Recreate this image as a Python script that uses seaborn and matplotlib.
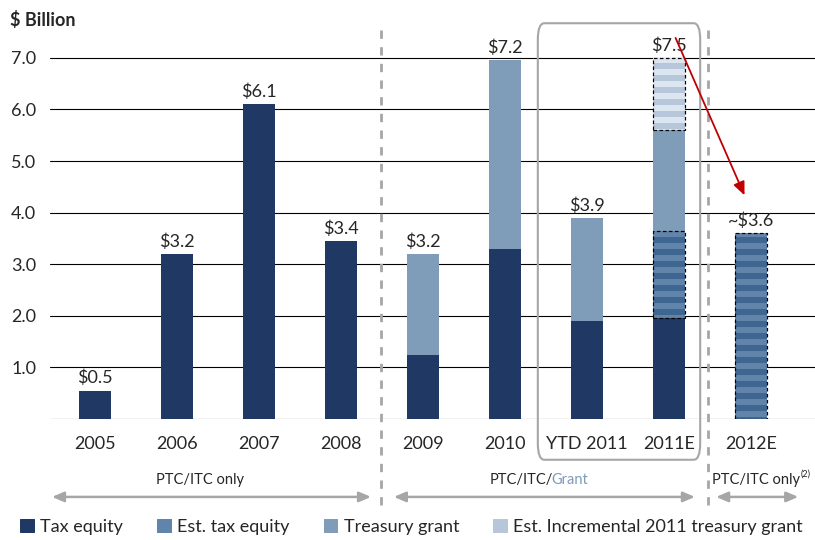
import numpy as np
import pandas as pd
import matplotlib.pyplot as plt
import seaborn as sns
from matplotlib.patches import Patch, FancyBboxPatch

years = ['2005', '2006', '2007', '2008', '2009', '2010', 'YTD 2011', '2011E', '2012E']
tax_equity = [0.55, 3.2, 6.1, 3.45, 1.25, 3.3, 1.9, 1.95, 0]
est_tax_equity = [0, 0, 0, 0, 0, 0, 0, 1.7, 3.6]
treasury_grant = [0, 0, 0, 0, 1.95, 3.65, 2.0, 1.95, 0]
est_incr_grant = [0, 0, 0, 0, 0, 0, 0, 1.4, 0]
value_labels = ['$0.5', '$3.2', '$6.1', '$3.4', '$3.2', '$7.2', '$3.9', '$7.5', '~$3.6']

df = pd.DataFrame({'year': years, 'tax': tax_equity, 'est_tax': est_tax_equity,
                   'grant': treasury_grant, 'est_incr': est_incr_grant})
df['c1'] = df['tax']
df['c2'] = df['c1'] + df['est_tax']
df['c3'] = df['c2'] + df['grant']
df['c4'] = df['c3'] + df['est_incr']

c_tax = '#1f3864'
c_est = '#3f6690'
c_est_h = '#6184aa'
c_grant = '#7f9cb8'
c_incr = '#dce6f1'
c_incr_h = '#b7c6d8'
grey = '#a6a6a6'

# figure at 72 dpi so 1 pt = 1 px (hatch spacing is tied to dpi)
DPI = 72
S = 100 / 72  # scale factor for sizes tuned at 100 dpi

sns.set_style('white')
plt.rcParams['font.family'] = ['Lato', 'DejaVu Sans']
plt.rcParams['text.parse_math'] = False
plt.rcParams['hatch.linewidth'] = 6

fig = plt.figure(figsize=(815 / DPI, 540 / DPI), dpi=DPI)
ax = fig.add_axes([50 / 815, 121 / 540, 765 / 815, 387 / 540])

# stacked bars: draw cumulative totals from the top layer down
layers = [('c4', c_incr, c_incr_h, '-'),
          ('c3', c_grant, None, ''),
          ('c2', c_est, c_est_h, '-'),
          ('c1', c_tax, None, '')]
for col, fc, hc, hatch in layers:
    n0 = len(ax.patches)
    sns.barplot(data=df, x='year', y=col, color=fc, saturation=1, width=0.38,
                linewidth=0, errorbar=None, ax=ax)
    if hatch:
        for p in ax.patches[n0:]:
            p.set_hatch(hatch)
            p.set_edgecolor(hc)

# dashed outlines around estimated segments
xpos = np.arange(len(years))
m = df['est_tax'] > 0
ax.bar(xpos[m], df['est_tax'][m], bottom=df['c1'][m], width=0.38, fill=False,
       edgecolor='black', linestyle=(0, (3, 2)), linewidth=1.2)
m = df['est_incr'] > 0
ax.bar(xpos[m], df['est_incr'][m], bottom=df['c3'][m], width=0.38, fill=False,
       edgecolor='black', linestyle=(0, (3, 2)), linewidth=1.2)

for i, lab in enumerate(value_labels):
    ax.text(i, df['c4'][i] + 0.08, lab, ha='center', va='bottom', fontsize=13 * S)

ax.set_ylim(0, 7.5)
ax.set_xlim(-0.549, 8.78)
ax.set_yticks(range(8))
ax.set_yticklabels([''] + ['%.1f' % v for v in range(1, 8)])
ax.yaxis.grid(True, color='black', linewidth=1.1)
ax.set_axisbelow(True)
ax.tick_params(axis='both', length=0, labelsize=13 * S)
ax.tick_params(axis='x', pad=12 * S)
ax.tick_params(axis='y', pad=10 * S)
ax.set_xlabel('')
ax.set_ylabel('')
for s in ax.spines.values():
    s.set_visible(False)

# period separators and box
for xv in [3.49, 7.48]:
    ax.plot([xv, xv], [-1.67, 7.55], color=grey, linestyle=(0, (3, 3)), linewidth=2 * S,
            clip_on=False, zorder=1)
box = FancyBboxPatch((5.40, -0.79), 1.98, 8.46, boxstyle='round,pad=0,rounding_size=0.08',
                     fill=False, edgecolor=grey, linewidth=1.5 * S, clip_on=False,
                     mutation_aspect=4)
ax.add_patch(box)

# red arrow 2011E -> 2012E
ax.annotate('', xy=(7.93, 4.3), xytext=(7.07, 7.42),
            arrowprops=dict(arrowstyle='-|>,head_length=0.8,head_width=0.35',
                            color='#c00000', linewidth=1.3 * S, mutation_scale=10 * S),
            annotation_clip=False)

# period arrows below the axis
arrow_kw = dict(arrowstyle='<|-|>,head_length=0.7,head_width=0.3', color=grey,
                linewidth=1.8 * S, mutation_scale=10 * S)
for x0, x1 in [(-0.549, 3.39), (3.62, 7.34), (7.55, 8.6)]:
    ax.annotate('', xy=(x0, -1.51), xytext=(x1, -1.51), arrowprops=arrow_kw,
                annotation_clip=False)
fs = 10.5 * S
ax.text(1.28, -1.18, 'PTC/ITC only', ha='center', va='center', fontsize=fs)
ax.text(5.585, -1.18, 'PTC/ITC/', ha='right', va='center', fontsize=fs)
ax.text(5.56, -1.18, 'Grant', ha='left', va='center', fontsize=fs, color='#7f9cb8')
ax.text(7.52, -1.18, 'PTC/ITC only', ha='left', va='center', fontsize=fs)
ax.text(8.6, -1.07, '(2)', ha='left', va='center', fontsize=6.5 * S)

fig.text(10 / 815, 1 - 20 / 540, '$ Billion', fontweight='bold', fontsize=13 * S, va='center')

handles = [Patch(facecolor=c_tax, edgecolor=c_tax, label='Tax equity'),
           Patch(facecolor=c_est, edgecolor=c_est_h, hatch='---', label='Est. tax equity'),
           Patch(facecolor=c_grant, edgecolor=c_grant, label='Treasury grant'),
           Patch(facecolor=c_incr, edgecolor=c_incr_h, hatch='---',
                 label='Est. Incremental 2011 treasury grant')]
fig.legend(handles=handles, loc='center', bbox_to_anchor=(0.505, 13 / 540), ncol=4,
           frameon=False, fontsize=13 * S, handlelength=0.75, handleheight=0.75,
           handletextpad=0.35, columnspacing=1.9, borderaxespad=0)

fig.savefig('out.png', dpi=DPI)
